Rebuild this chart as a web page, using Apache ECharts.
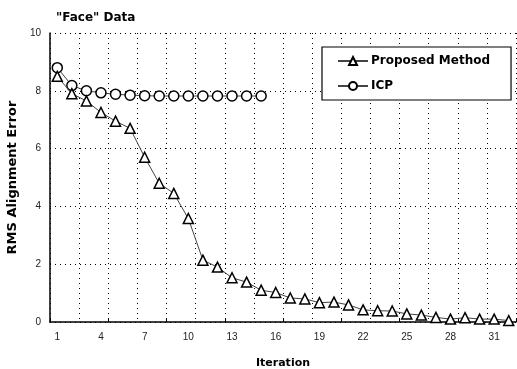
<!DOCTYPE html>
<html>
<head>
<meta charset="utf-8">
<script src="https://cdn.jsdelivr.net/npm/echarts@6/dist/echarts.min.js"></script>
<style>
html,body{margin:0;padding:0;background:#fff;}
#c{width:517px;height:369px;}
</style>
</head>
<body>
<div id="c"></div>
<script>
var titleText = '"Face" Data';
var xName = 'Iteration';
var yName = 'RMS Alignment Error';
var iterations = ['1','2','3','4','5','6','7','8','9','10','11','12','13','14','15','16',
  '17','18','19','20','21','22','23','24','25','26','27','28','29','30','31','32'];
var proposedName = 'Proposed Method';
var proposed = [8.5, 7.9, 7.65, 7.25, 6.95, 6.7, 5.7, 4.8, 4.45, 3.58, 2.14, 1.9, 1.53, 1.38, 1.1, 1.02,
  0.83, 0.8, 0.67, 0.69, 0.59, 0.42, 0.39, 0.38, 0.28, 0.24, 0.16, 0.1, 0.15, 0.1, 0.1, 0.05];
var icpName = 'ICP';
var icp = [8.8, 8.18, 8.0, 7.93, 7.88, 7.85, 7.83, 7.82, 7.82, 7.82, 7.82, 7.82, 7.82, 7.82, 7.82];
var yMin = 0, yMax = 10, yStep = 2;

var chart = echarts.init(document.getElementById('c'), null, {renderer: 'canvas'});
var boldFont = 'DejaVu Sans, Verdana, sans-serif';
chart.setOption({
  animation: false,
  backgroundColor: '#fff',
  title: {
    text: titleText, left: 51, top: 7,
    textStyle: {fontFamily: boldFont, fontWeight: 'bold', fontSize: 12, color: '#000'}
  },
  grid: {left: 50, right: 1, top: 33, bottom: 47, containLabel: false, outerBoundsMode: 'none'},
  legend: {
    orient: 'vertical',
    left: 322, top: 47,
    padding: [8, 21, 8, 15],
    itemGap: 13,
    itemWidth: 30, itemHeight: 10,
    backgroundColor: '#fff',
    borderColor: '#000', borderWidth: 1.2,
    textStyle: {fontFamily: boldFont, fontWeight: 'bold', fontSize: 12, color: '#000', padding: [0, 0, 0, -2]},
    data: [proposedName, icpName]
  },
  xAxis: {
    type: 'category',
    data: iterations,
    boundaryGap: true,
    name: xName, nameLocation: 'middle', nameGap: 36,
    nameTextStyle: {fontFamily: boldFont, fontWeight: 'bold', fontSize: 11, color: '#000'},
    axisLine: {lineStyle: {color: '#000', width: 1.5}},
    axisTick: {show: true, inside: true, length: 3, interval: 3, lineStyle: {color: '#000'}},
    axisLabel: {interval: 2, margin: 10, fontFamily: 'Liberation Sans, Arial, sans-serif', fontSize: 10, color: '#222'},
    splitLine: {show: true, interval: 1, lineStyle: {color: '#000', type: [1, 4], width: 1}}
  },
  yAxis: {
    type: 'value',
    min: yMin, max: yMax, interval: yStep,
    name: yName, nameLocation: 'middle', nameGap: 29, nameRotate: 90,
    nameTextStyle: {fontFamily: boldFont, fontWeight: 'bold', fontSize: 13, color: '#000'},
    axisLine: {show: true, lineStyle: {color: '#000', width: 1.5}},
    axisTick: {show: false},
    axisLabel: {margin: 9, fontFamily: 'Liberation Sans, Arial, sans-serif', fontSize: 10, color: '#222'},
    splitLine: {show: true, lineStyle: {color: '#000', type: [1, 4], width: 1}}
  },
  series: [
    {
      name: proposedName, type: 'line', data: proposed,
      symbol: 'triangle', symbolSize: 10, showAllSymbol: true,
      lineStyle: {color: '#444', width: 1},
      itemStyle: {color: '#fff', borderColor: '#000', borderWidth: 1.5},
      z: 3
    },
    {
      name: icpName, type: 'line', data: icp,
      symbol: 'circle', symbolSize: 10, showAllSymbol: true,
      lineStyle: {color: '#444', width: 1},
      itemStyle: {color: '#fff', borderColor: '#000', borderWidth: 1.5},
      z: 2
    }
  ]
});
</script>
</body>
</html>
